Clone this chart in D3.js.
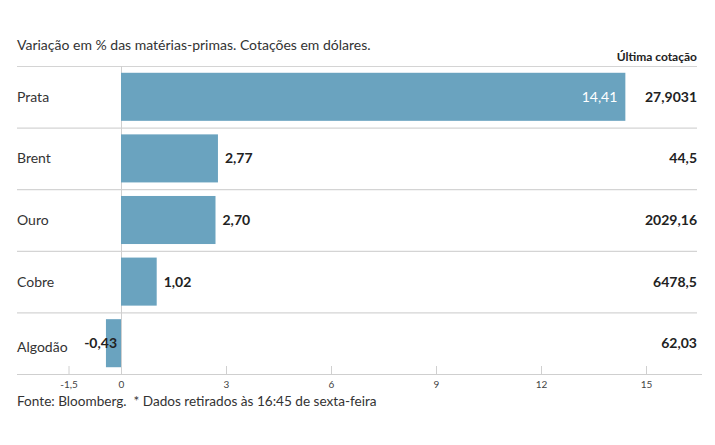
<!DOCTYPE html>
<html>

<head>
    <meta charset="utf-8">
    <style>
        body {
            margin: 0;
            background: #fff;
            font-family: Lato, 'Open Sans', sans-serif;
        }

        svg {
            display: block;
        }
    </style>
</head>

<body>
    <svg width="715" height="445"></svg>
</body>

<script src="https://d3js.org/d3.v7.min.js"></script>

<script>
    // data
    let categories = ["Prata", "Brent", "Ouro", "Cobre", "Algodão"];
    let variation = [14.41, 2.77, 2.70, 1.02, -0.43];
    let lastQuote = ["27,9031", "44,5", "2029,16", "6478,5", "62,03"];
    let tickValues = [-1.5, 0, 3, 6, 9, 12, 15];

    let data = categories.map((c, i) => ({ name: c, value: variation[i], quote: lastQuote[i] }));

    let width = 715;
    let height = 445;
    let margin = { top: 66, bottom: 374, left: 17, right: 697 };

    let svg = d3.select("svg");

    // comma decimals, plain hyphen for negatives
    let fmt = d => d3.format(".2f")(d).replace(".", ",").replace("\u2212", "-");
    let tickFmt = d => String(d).replace(".", ",");

    // 0 sits at x=121, 15 at x=646
    let x = d3.scaleLinear()
        .domain([0, 15])
        .range([121, 646]);

    let y = d3.scaleBand()
        .domain(categories)
        .range([margin.top, margin.bottom])
        .paddingInner(0.22)
        .paddingOuter(0.11);

    let step = y.step();

    // title
    svg.append("text")
        .attr("x", margin.left)
        .attr("y", 50)
        .style("font-size", "14px")
        .style("fill", "#333")
        .text("Variação em % das matérias-primas. Cotações em dólares.");

    svg.append("text")
        .attr("x", margin.right)
        .attr("y", 61)
        .attr("text-anchor", "end")
        .style("font-size", "12px")
        .style("font-weight", "bold")
        .style("fill", "#222")
        .text("Última cotação");

    // separators between rows
    let seps = d3.range(categories.length).map(i => margin.top + i * step);
    svg.selectAll(".sep")
        .data(seps)
        .enter().append("line")
        .attr("class", "sep")
        .attr("x1", margin.left)
        .attr("x2", margin.right)
        .attr("y1", d => d + 0.5)
        .attr("y2", d => d + 0.5)
        .style("stroke", "#d4d4d4")
        .style("stroke-width", "1.2px");

    // zero line
    svg.append("line")
        .attr("x1", x(0) + 0.5)
        .attr("x2", x(0) + 0.5)
        .attr("y1", margin.top)
        .attr("y2", margin.bottom)
        .style("stroke", "#cfcfcf");

    // bars
    svg.selectAll(".bar")
        .data(data)
        .enter().append("rect")
        .attr("class", "bar")
        .attr("x", d => x(Math.min(0, d.value)))
        .attr("width", d => Math.abs(x(d.value) - x(0)))
        .attr("y", d => y(d.name))
        .attr("height", y.bandwidth())
        .style("fill", "#6aa3bf");

    // category labels
    svg.selectAll(".cat")
        .data(data)
        .enter().append("text")
        .attr("x", margin.left)
        .attr("y", d => y(d.name) + y.bandwidth() / 2 + (d.value < 0 ? 4 : 0))
        .attr("dy", "0.35em")
        .style("font-size", "14px")
        .style("fill", "#333")
        .text(d => d.name);

    // value labels
    svg.selectAll(".val")
        .data(data)
        .enter().append("text")
        .attr("x", d => {
            if (d.value > 10) return x(d.value) - 8;
            if (d.value < 0) return x(0) - 4;
            return x(d.value) + 7;
        })
        .attr("y", d => y(d.name) + y.bandwidth() / 2)
        .attr("dy", "0.35em")
        .attr("text-anchor", d => (d.value > 10 || d.value < 0) ? "end" : "start")
        .style("font-size", "14px")
        .style("font-weight", d => d.value > 10 ? "normal" : "bold")
        .style("fill", d => d.value > 10 ? "#fff" : "#222")
        .text(d => fmt(d.value));

    // last quote column
    svg.selectAll(".quote")
        .data(data)
        .enter().append("text")
        .attr("x", margin.right)
        .attr("y", d => y(d.name) + y.bandwidth() / 2)
        .attr("dy", "0.35em")
        .attr("text-anchor", "end")
        .style("font-size", "14px")
        .style("font-weight", "bold")
        .style("fill", "#222")
        .text(d => d.quote);

    // axis
    let xAxis = d3.axisTop(x)
        .tickValues(tickValues)
        .tickSize(8)
        .tickFormat(tickFmt);

    let axis = svg.append("g")
        .attr("transform", `translate(0,${margin.bottom})`)
        .call(xAxis);

    axis.select(".domain").remove();
    axis.selectAll(".tick line").style("stroke", "#d0d0d0");
    axis.selectAll(".tick text")
        .attr("y", 14)
        .attr("dy", "0em")
        .style("font-size", "10px")
        .style("font-family", "Lato, sans-serif")
        .style("fill", "#444");

    svg.append("line")
        .attr("x1", margin.left)
        .attr("x2", 702)
        .attr("y1", margin.bottom + 0.5)
        .attr("y2", margin.bottom + 0.5)
        .style("stroke", "#cfcfcf")
        .style("stroke-width", "1.2px");

    // footer
    svg.append("text")
        .attr("x", margin.left)
        .attr("y", 406)
        .attr("xml:space", "preserve")
        .style("font-size", "13.6px")
        .style("fill", "#333")
        .text("Fonte: Bloomberg.  * Dados retirados às 16:45 de sexta-feira");
</script>

</html>
